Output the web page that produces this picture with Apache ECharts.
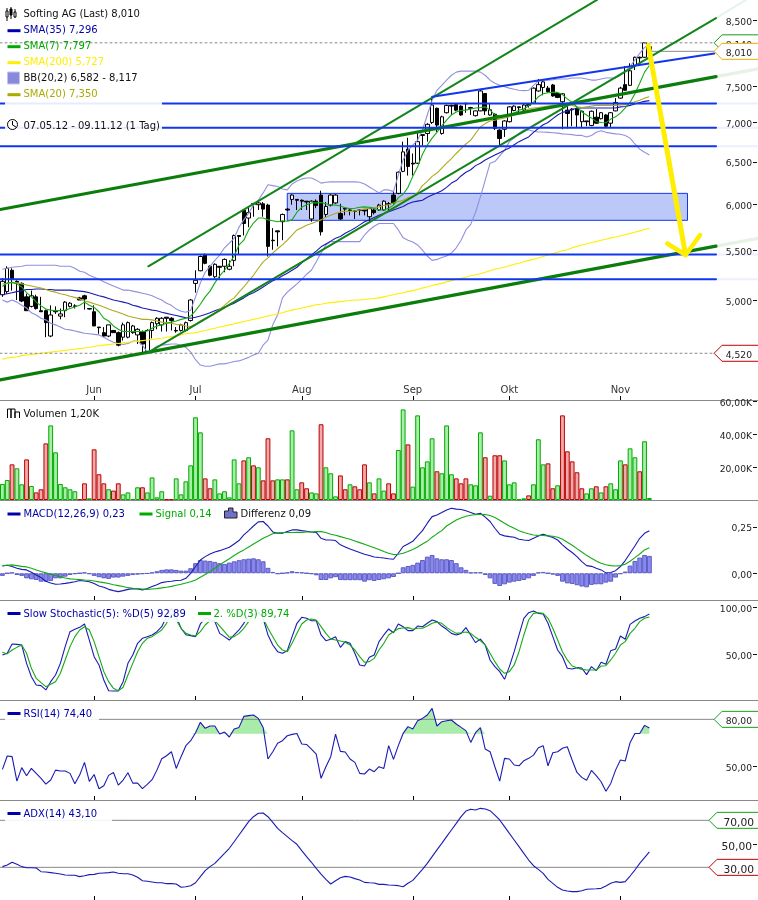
<!DOCTYPE html>
<html><head><meta charset="utf-8"><style>html,body{margin:0;padding:0;background:#fff}#c{width:758px;height:900px}</style>
<script src="https://cdn.jsdelivr.net/npm/echarts@6/dist/echarts.min.js"></script></head><body><div id="c"></div>
<script>
const categories=['05-07','05-08','05-09','05-10','05-11','05-14','05-15','05-16','05-17','05-18','05-21','05-22','05-23','05-24','05-25','05-28','05-29','05-30','05-31','06-01',
'06-04','06-05','06-06','06-07','06-08','06-11','06-12','06-13','06-14','06-15','06-18','06-19','06-20','06-21','06-22','06-25','06-26','06-27','06-28','06-29',
'07-02','07-03','07-04','07-05','07-06','07-09','07-10','07-11','07-12','07-13','07-16','07-17','07-18','07-19','07-20','07-23','07-24','07-25','07-26','07-27',
'07-30','07-31','08-01','08-02','08-03','08-06','08-07','08-08','08-09','08-10','08-13','08-14','08-15','08-16','08-17','08-20','08-21','08-22','08-23','08-24',
'08-27','08-28','08-29','08-30','08-31','09-03','09-04','09-05','09-06','09-07','09-10','09-11','09-12','09-13','09-14','09-17','09-18','09-19','09-20','09-21',
'09-24','09-25','09-26','09-27','09-28','10-01','10-02','10-03','10-04','10-05','10-08','10-09','10-10','10-11','10-12','10-15','10-16','10-17','10-18','10-19',
'10-22','10-23','10-24','10-25','10-26','10-29','10-30','10-31','11-01','11-02','11-05','11-06','11-07','11-08','11-09',
'11-12','11-13','11-14','11-15','11-16','11-19','11-20','11-21','11-22','11-23','11-26','11-27','11-28','11-29','11-30','12-03','12-04','12-05','12-06','12-07','12-10','12-11'];
const monthTicks={'06-01':'Jun','07-02':'Jul','08-01':'Aug','09-03':'Sep','10-01':'Okt','11-01':'Nov'};
// open, close, low, high
const ohlc=[[5.05,5.18,5.03,5.21],[5.08,5.31,5.06,5.33],[5.29,5.20,5.09,5.31],[5.18,5.17,5.00,5.19],[5.16,4.99,4.98,5.17],[5.03,4.90,4.90,5.06],[4.94,5.04,4.93,5.09],[5.03,4.92,4.91,5.05],[4.90,4.89,4.89,5.03],[4.90,4.79,4.66,4.91],
[4.67,4.86,4.66,4.95],[4.90,4.89,4.87,4.94],[4.85,4.87,4.82,4.92],[4.90,4.98,4.84,4.99],[4.94,4.97,4.93,4.98],[4.94,4.945,4.92,4.96],[5.02,5.00,5.00,5.03],[5.04,5.01,4.91,5.05],[4.92,4.915,4.91,4.92],[4.89,4.76,4.76,4.95],
[4.75,4.745,4.69,4.75],[4.70,4.67,4.66,4.75],[4.67,4.77,4.66,4.77],[4.72,4.70,4.70,4.72],[4.70,4.59,4.58,4.71],[4.66,4.77,4.63,4.79],[4.66,4.79,4.65,4.80],[4.70,4.76,4.69,4.77],[4.68,4.73,4.60,4.74],[4.71,4.60,4.52,4.72],
[4.53,4.72,4.52,4.73],[4.72,4.79,4.65,4.80],[4.78,4.83,4.73,4.84],[4.77,4.83,4.71,4.84],[4.84,4.83,4.71,4.84],[4.83,4.81,4.72,4.84],[4.72,4.715,4.70,4.75],[4.72,4.77,4.71,4.78],[4.72,4.79,4.71,4.80],[4.81,5.00,4.80,5.01],
[5.16,5.19,5.07,5.29],[5.285,5.43,5.28,5.44],[5.45,5.36,5.35,5.46],[5.33,5.24,5.23,5.34],[5.225,5.35,5.21,5.36],[5.33,5.32,5.21,5.33],[5.33,5.40,5.27,5.41],[5.30,5.33,5.29,5.39],[5.39,5.65,5.33,5.66],[5.65,5.64,5.45,5.65],
[5.93,5.78,5.65,5.94],[5.84,5.90,5.74,5.97],[6.00,5.995,5.855,6.01],[5.99,6.01,5.93,6.03],[6.00,5.94,5.855,6.02],[5.985,5.535,5.43,6.00],[5.60,5.595,5.50,5.73],[5.70,5.69,5.535,5.70],[5.80,5.88,5.60,5.89],[5.94,5.93,5.92,5.95],
[6.05,6.10,5.99,6.11],[6.05,6.04,5.93,6.05],[6.04,6.03,5.93,6.05],[6.03,6.02,5.93,6.03],[5.83,6.03,5.80,6.04],[6.03,5.98,5.95,6.05],[6.10,5.69,5.65,6.15],[5.88,5.97,5.85,6.02],[5.985,6.10,5.97,6.11],[6.01,6.10,6.00,6.11],
[5.89,5.83,5.82,6.00],[5.95,5.94,5.87,5.95],[5.93,5.925,5.87,5.94],[5.92,5.915,5.83,5.93],[5.93,5.925,5.87,5.94],[5.93,5.92,5.87,5.935],[5.855,5.945,5.80,5.95],[5.93,5.90,5.88,5.95],[5.93,5.985,5.92,6.00],[5.93,6.03,5.92,6.04],
[6.00,5.995,5.93,6.02],[6.10,6.01,5.99,6.15],[6.12,6.37,6.11,6.38],[6.38,6.62,6.37,6.75],[6.655,6.44,6.33,6.80],[6.48,6.47,6.33,6.60],[6.48,6.75,6.47,6.86],[6.84,6.83,6.70,6.84],[6.855,6.975,6.75,6.99],[7.00,7.235,6.98,7.35],
[7.19,6.965,6.875,7.20],[6.855,7.075,6.84,7.09],[7.13,7.23,7.12,7.24],[7.23,7.22,7.10,7.24],[7.24,7.165,7.15,7.25],[7.22,7.10,7.09,7.23],[7.26,7.25,7.13,7.26],[7.20,7.19,7.10,7.21],[7.09,7.155,7.08,7.16],[7.155,7.43,7.15,7.46],
[7.395,7.155,7.10,7.40],[7.10,7.17,7.09,7.26],[7.11,6.92,6.90,7.12],[6.90,6.79,6.70,6.91],[6.91,7.02,6.81,7.03],[7.01,7.21,7.00,7.22],[7.16,7.22,7.15,7.23],[7.21,7.20,7.14,7.21],[7.165,7.235,7.15,7.25],[7.24,7.23,7.20,7.25],
[7.26,7.47,7.25,7.48],[7.43,7.52,7.42,7.60],[7.48,7.56,7.37,7.57],[7.47,7.42,7.41,7.50],[7.515,7.36,7.35,7.53],[7.395,7.34,7.33,7.40],[7.28,7.39,6.91,7.40],[7.165,7.12,6.92,7.26],[7.18,7.17,6.95,7.19],[7.19,7.10,6.94,7.20],
[7.01,7.15,6.94,7.16],[7.02,7.01,6.95,7.02],[6.96,7.15,6.95,7.16],[7.07,6.99,6.98,7.18],[7.05,7.13,7.04,7.14],[7.10,6.95,6.93,7.11],[6.99,7.13,6.94,7.14],[7.155,7.27,7.15,7.33],[7.33,7.47,7.32,7.49],[7.52,7.44,7.43,7.79],
[7.51,7.72,7.50,7.83],[7.80,7.92,7.73,7.93],[7.92,7.91,7.83,7.93],[7.92,8.14,7.91,8.14],[8.08,8.01,7.97,8.13]];
const sma35=[5.05,5.06,5.07,5.08,5.09,5.10,5.10,5.105,5.105,5.10,5.10,5.095,5.095,5.095,5.095,5.09,5.085,5.08,5.07,5.055,
5.04,5.03,5.015,5.00,4.99,4.98,4.97,4.95,4.94,4.925,4.915,4.905,4.90,4.885,4.875,4.865,4.855,4.845,4.835,4.83,
4.84,4.85,4.865,4.88,4.90,4.915,4.935,4.95,4.97,4.995,5.02,5.05,5.07,5.095,5.125,5.155,5.185,5.205,5.235,5.26,
5.29,5.32,5.365,5.405,5.445,5.485,5.53,5.56,5.59,5.62,5.64,5.675,5.70,5.73,5.765,5.80,5.82,5.845,5.87,5.89,
5.91,5.93,5.95,5.97,6.00,6.02,6.03,6.04,6.075,6.10,6.125,6.15,6.19,6.24,6.27,6.325,6.37,6.40,6.45,6.48,
6.52,6.55,6.58,6.61,6.64,6.67,6.71,6.75,6.78,6.81,6.87,6.92,6.97,7.00,7.05,7.10,7.135,7.15,7.175,7.19,
7.195,7.195,7.195,7.195,7.195,7.195,7.195,7.195,7.21,7.215,7.23,7.25,7.27,7.285,7.296];
const sma7=[5.13,5.165,5.17,5.155,5.125,5.07,5.03,4.98,4.945,4.915,4.905,4.90,4.90,4.905,4.92,4.935,4.95,4.98,4.95,4.93,
4.89,4.83,4.805,4.76,4.73,4.71,4.71,4.71,4.71,4.71,4.715,4.74,4.76,4.77,4.785,4.795,4.805,4.82,4.83,4.85,
4.90,4.96,5.03,5.085,5.165,5.235,5.29,5.36,5.435,5.55,5.60,5.71,5.785,5.84,5.84,5.82,5.81,5.80,5.81,5.805,
5.82,5.905,5.96,5.99,6.01,6.01,6.015,6.00,5.99,5.985,5.975,5.955,5.945,5.95,5.96,5.965,5.96,5.95,5.93,5.93,
5.95,5.985,6.07,6.11,6.19,6.32,6.435,6.59,6.705,6.795,6.87,6.955,7.03,7.10,7.14,7.16,7.165,7.18,7.195,7.20,
7.21,7.165,7.10,7.085,7.09,7.10,7.125,7.165,7.18,7.225,7.27,7.35,7.39,7.405,7.41,7.41,7.38,7.32,7.27,7.21,
7.14,7.10,7.06,7.01,7.00,6.995,7.045,7.075,7.125,7.195,7.27,7.39,7.54,7.70,7.797];
const sma200=[4.47,4.48,4.485,4.49,4.50,4.505,4.51,4.515,4.52,4.525,4.53,4.535,4.54,4.545,4.55,4.555,4.56,4.565,4.57,4.58,
4.585,4.59,4.595,4.60,4.605,4.61,4.615,4.62,4.625,4.63,4.635,4.64,4.645,4.65,4.66,4.665,4.67,4.68,4.69,4.695,
4.70,4.71,4.72,4.73,4.74,4.75,4.76,4.77,4.78,4.79,4.80,4.81,4.82,4.83,4.84,4.85,4.86,4.87,4.88,4.895,
4.905,4.915,4.925,4.935,4.945,4.955,4.96,4.97,4.975,4.98,4.985,4.99,4.995,5.00,5.00,5.005,5.01,5.015,5.02,5.03,
5.04,5.05,5.06,5.07,5.08,5.09,5.10,5.115,5.125,5.14,5.15,5.16,5.175,5.185,5.20,5.21,5.22,5.235,5.245,5.255,
5.27,5.285,5.30,5.31,5.32,5.335,5.35,5.36,5.375,5.39,5.40,5.415,5.43,5.445,5.46,5.475,5.49,5.50,5.52,5.535,
5.55,5.56,5.575,5.585,5.60,5.61,5.625,5.635,5.645,5.66,5.67,5.685,5.70,5.715,5.727];
const sma20=[5.155,5.16,5.17,5.165,5.155,5.145,5.135,5.125,5.115,5.10,5.085,5.075,5.06,5.05,5.035,5.025,5.01,4.99,4.98,4.965,
4.95,4.935,4.915,4.90,4.885,4.87,4.85,4.84,4.83,4.82,4.82,4.815,4.805,4.795,4.79,4.785,4.775,4.77,4.76,4.755,
4.775,4.805,4.83,4.85,4.88,4.915,4.95,4.99,5.02,5.075,5.125,5.185,5.24,5.31,5.375,5.415,5.465,5.51,5.55,5.60,
5.655,5.71,5.735,5.76,5.78,5.80,5.82,5.85,5.87,5.89,5.91,5.915,5.915,5.92,5.93,5.94,5.95,5.955,5.965,5.98,
5.99,6.01,6.025,6.04,6.07,6.085,6.13,6.21,6.26,6.32,6.36,6.42,6.48,6.535,6.60,6.66,6.72,6.77,6.855,6.94,
6.985,7.02,7.03,7.045,7.06,7.075,7.10,7.125,7.15,7.18,7.195,7.20,7.21,7.22,7.23,7.235,7.24,7.24,7.23,7.21,
7.20,7.21,7.22,7.23,7.23,7.23,7.23,7.23,7.235,7.24,7.26,7.28,7.30,7.33,7.35];
const bbUpper=[5.30,5.31,5.32,5.325,5.33,5.34,5.34,5.34,5.34,5.34,5.34,5.34,5.33,5.33,5.33,5.31,5.28,5.27,5.24,5.22,
5.20,5.175,5.155,5.135,5.115,5.095,5.095,5.085,5.075,5.065,5.055,5.04,5.02,5.00,4.97,4.95,4.915,4.895,4.885,4.905,
5.03,5.165,5.27,5.33,5.39,5.445,5.52,5.57,5.62,5.74,5.82,5.895,5.985,6.04,6.125,6.22,6.21,6.20,6.17,6.16,
6.23,6.265,6.29,6.30,6.30,6.275,6.24,6.25,6.255,6.255,6.255,6.255,6.255,6.255,6.25,6.23,6.195,6.16,6.125,6.16,
6.16,6.14,6.335,6.52,6.64,6.705,6.77,6.90,7.10,7.30,7.44,7.51,7.585,7.655,7.70,7.715,7.715,7.715,7.715,7.70,
7.655,7.585,7.54,7.51,7.49,7.47,7.455,7.44,7.435,7.44,7.51,7.57,7.585,7.585,7.59,7.60,7.60,7.60,7.615,7.615,
7.615,7.60,7.585,7.585,7.60,7.615,7.615,7.615,7.655,7.715,7.78,7.88,7.98,8.07,8.117];
const bbLower=[5.00,4.98,5.00,4.98,4.95,4.925,4.88,4.86,4.83,4.815,4.785,4.77,4.75,4.73,4.725,4.715,4.705,4.695,4.69,4.685,
4.68,4.66,4.635,4.615,4.605,4.595,4.605,4.625,4.625,4.59,4.53,4.55,4.58,4.59,4.595,4.60,4.60,4.59,4.57,4.53,
4.465,4.42,4.41,4.41,4.42,4.43,4.43,4.44,4.45,4.455,4.47,4.485,4.505,4.52,4.59,4.635,4.77,4.86,5.02,5.075,
5.115,5.155,5.20,5.25,5.29,5.375,5.465,5.55,5.585,5.585,5.585,5.585,5.585,5.585,5.585,5.655,5.71,5.75,5.78,5.78,
5.78,5.78,5.71,5.625,5.60,5.58,5.55,5.495,5.435,5.39,5.40,5.42,5.435,5.465,5.52,5.60,5.71,5.77,5.905,6.08,
6.275,6.48,6.50,6.57,6.64,6.75,6.795,6.86,6.90,6.90,6.885,6.875,6.875,6.87,6.865,6.86,6.85,6.845,6.84,6.83,
6.83,6.81,6.83,6.87,6.89,6.87,6.86,6.85,6.845,6.83,6.795,6.72,6.655,6.615,6.582];
const volume=[9.7,12.1,21.6,19.2,9.5,24.6,8.5,4.6,6.5,34.3,45.2,28.9,9.7,7.7,6.5,5.3,0.4,10.1,1.0,30.7,
15.6,10.1,6.5,5.7,10.1,3.4,4.6,0.6,7.7,7.7,4.6,13.7,1.6,5.3,0.4,0.4,13.1,3.4,11.3,21.0,
50.1,41.0,13.1,7.1,12.5,4.0,5.3,1.6,24.6,10.1,24.0,25.9,21.0,19.8,11.9,37.4,11.9,12.5,12.5,12.5,
42.2,6.5,10.7,7.1,4.6,4.0,45.9,19.8,16.2,2.2,14.9,6.5,9.5,8.3,6.5,21.6,10.7,4.0,13.1,5.7,
10.1,4.0,30.3,54.9,33.7,8.1,51.3,19.8,23.4,37.4,17.4,16.2,45.2,15.6,13.1,10.1,13.1,9.5,8.9,41.0,
25.9,2.6,27.1,27.1,24.0,9.5,10.7,0.4,1.0,2.8,9.5,36.8,21.6,22.2,7.1,8.9,51.3,29.5,23.4,16.8,
7.1,4.0,7.1,8.3,4.6,8.3,10.1,6.5,24.0,21.6,31.3,25.9,17.4,35.6,1.2];
const volumeDirection=('GGRGGRGRRR'+'GGGGGGRRGR'+'RRGRRGGGGR'+'GGGGRRGGGG'+'GGRRGGGGGG'+'RGRGRRRGGR'+'GGRRGGRGGG'+'RRGRRRGRGG'+'RRGGRGGGGG'+'RGGGRRRGGG'+'RGRRGGGGGR'+'GGGRRGRRRR'+'RGGRGRGGGR'+'GGRGG').split('');
const macd=[.039,.043,.036,.027,.021,.018,.005,-.009,-.023,-.043,-.052,-.059,-.057,-.054,-.05,-.045,-.039,-.041,-.045,-.055,
-.068,-.075,-.086,-.093,-.098,-.093,-.086,-.082,-.084,-.089,-.082,-.071,-.061,-.05,-.045,-.043,-.039,-.037,-.027,0,
.036,.071,.089,.103,.114,.121,.13,.139,.157,.175,.205,.228,.253,.275,.277,.253,.221,.214,.214,.223,
.232,.232,.228,.225,.221,.219,.187,.178,.178,.175,.152,.141,.13,.121,.111,.102,.095,.087,.084,.082,
.078,.075,.107,.143,.157,.171,.2,.228,.268,.303,.312,.325,.339,.348,.343,.341,.334,.325,.316,.321,
.3,.277,.241,.209,.2,.196,.193,.182,.178,.175,.187,.2,.209,.2,.191,.178,.152,.13,.111,.089,
.062,.041,.037,.027,.018,.002,.004,.014,.036,.068,.107,.146,.187,.214,.228];
const signal=[.041,.043,.045,.041,.037,.034,.027,.018,.009,.002,-.005,-.012,-.018,-.025,-.03,-.032,-.034,-.036,-.037,-.041,
-.046,-.05,-.055,-.061,-.066,-.071,-.077,-.08,-.082,-.084,-.086,-.084,-.082,-.078,-.075,-.07,-.064,-.059,-.052,-.045,
-.036,-.021,-.007,.009,.027,.045,.062,.078,.095,.111,.125,.141,.157,.171,.187,.2,.211,.216,.218,.218,
.218,.219,.219,.221,.221,.223,.223,.218,.209,.203,.196,.189,.182,.173,.164,.155,.146,.137,.127,.116,
.107,.1,.102,.107,.116,.127,.141,.157,.171,.193,.211,.228,.253,.269,.285,.296,.305,.31,.314,.316,
.314,.309,.298,.284,.268,.253,.241,.228,.218,.211,.205,.203,.202,.2,.198,.193,.182,.166,.15,.132,
.114,.096,.08,.066,.054,.046,.041,.039,.041,.048,.064,.084,.103,.125,.137];
const diff=[-.014,0,.004,-.009,-.014,-.027,-.032,-.036,-.045,-.045,-.041,-.027,-.027,-.018,-.009,-.004,0,.004,-.004,-.014,
-.021,-.027,-.03,-.023,-.023,-.018,-.014,-.009,-.007,-.004,-.002,.004,.011,.018,.021,.021,.018,.014,.014,.027,
.054,.071,.068,.066,.061,.054,.05,.057,.064,.07,.075,.078,.08,.075,.064,.029,.007,-.004,0,.004,
.011,.007,.005,0,-.004,-.011,-.036,-.036,-.027,-.021,-.036,-.037,-.037,-.037,-.037,-.045,-.037,-.041,-.036,-.032,
-.027,-.02,0,.032,.039,.045,.057,.071,.089,.098,.08,.075,.075,.071,.054,.032,.018,.004,.005,.005,
-.009,-.027,-.057,-.068,-.059,-.05,-.045,-.041,-.036,-.027,-.014,.004,.007,0,-.007,-.014,-.045,-.054,-.057,-.064,
-.071,-.075,-.062,-.059,-.059,-.05,-.045,-.023,-.004,.009,.041,.066,.084,.098,.093];
const stochD=[49.3,51.1,61,60.6,59.9,40.4,26.2,17.4,16.7,12.1,20.9,28,40.4,58.2,74.1,76.6,78.7,82.3,65.2,47.5,
38.7,22.7,11.3,11,11,20.9,40.4,49.3,61.7,67,68.8,70.6,74.1,79.4,90.1,98.9,90.1,77.7,70.9,69.9,
68.8,82.3,88.3,86.5,84.8,72.3,68.8,65.2,70.6,75.9,83,91.8,98.9,95.4,88.3,70.6,59.9,52.8,51.1,53.9,
68.8,83,89.4,88.3,85.8,85.8,70.6,64.5,66,68.8,57.4,63.5,61.7,51.1,38.7,37.6,46.8,49.3,63.5,70.6,
77,73,82.3,79.4,75.2,75.2,80.1,79.4,83,86.5,84.8,80.1,76.6,72.3,70.6,72.3,78.4,70.6,62.4,66.3,
59.9,44,36.9,31.6,23.4,36.9,52.8,70.6,88.3,94.3,96.1,93.6,92.9,83,68.8,54.6,47.5,35.1,34.4,35.8,
35.5,28.4,36.9,32.6,41.5,39.4,53.9,55.7,69.5,66,81.9,85.5,88.3,90.1,92.89];
const stochD2=[52.1,50.4,54.6,57.4,59.9,51.1,35.1,24.5,19.9,15.6,18.1,20.9,29.8,44,58.2,68.8,75.9,79.4,75.9,63.5,
47.5,31.6,20.9,13.8,11.3,14.9,28,40.4,52.8,61.7,67,68.8,72.3,75.9,83,93.6,86.5,77.7,72.3,70.6,
69.5,74.1,81.2,85.8,85.8,80.1,74.1,68.1,68.8,72.3,77.7,84.8,91.8,93.6,88.3,77.7,68.8,59.9,54.6,52.8,
61.7,72.3,82.3,86.5,87.6,86.5,79.4,72.3,66.3,65.2,64.2,62.8,59.9,54.6,47.5,41.5,42.2,45.7,54.6,61.7,
70.6,74.1,77.3,78,78.4,76.6,77.7,77.7,80.1,83,84.4,83,78.7,75.2,72.3,73,73.8,72.3,68.1,64.5,
59.9,51.1,42.2,34.4,29.8,31.6,38.7,52.8,70.6,86.5,93.6,94.3,93.6,88.3,77.7,65.2,52.8,44,37.6,35.8,
34,33.3,33.3,33.3,37.6,37.9,44,51.1,59.9,63.5,72.3,77.7,84.8,88.3,89.74];
const rsi=[47.7,56.3,55.9,40.1,48.8,43.6,48.3,45.1,41.9,38.2,40.8,47.2,46.6,46.6,45.1,38.4,44,52.2,39.9,44.4,
35.2,37.1,43.8,45.7,37.5,40.8,45.5,38.8,38.8,35.2,38,41,47.2,54.6,56.5,59.1,48.3,55.9,63,66.2,
71.4,78.1,74.2,75.7,75.7,70.5,71.8,68.6,73.8,74.8,81.9,82.4,82.8,80.6,74.8,54.4,59.1,64.5,66.2,69.4,
70.3,70.9,64.1,63.8,60.8,57.6,41.9,49.4,55.9,70.5,59.3,58.9,54.4,52.2,45.1,44.7,47.9,46.2,49.4,48.3,
63,54.1,63,70.9,75.3,73.8,79.1,80.6,82.8,87.1,75.7,78.5,79.1,79.6,77,74.8,72.7,65.1,71.4,74.6,
60.8,59.1,49.4,40.1,54.8,54.4,50.5,50,53.3,54.8,56.9,61.7,63,50,58.4,59.1,61.3,62.3,53.7,45.7,
42.5,40.6,47,43.6,39.7,33.5,38.6,47.2,53.7,53.1,64.9,70.9,70.9,76.1,74.4];
const adx=[30.6,32,34.3,32.6,30.6,29.7,29.7,29.4,26.3,26,25.5,24.9,24.3,23.5,23.2,23.2,22.1,22.9,23.8,24,
24.9,25.2,25.5,26,24.9,24.6,24.6,23.5,21.5,18.6,18.1,17.5,16.9,16.9,16.1,16.1,15.8,13,13.5,14.4,
16.9,22.1,27.2,30.6,33.4,37.7,41.9,46.2,51.8,57.5,63.2,68.9,73.1,76,76.2,73.1,68.3,63.2,59.5,56.1,
52.7,49.6,44.2,39.1,34.3,29.1,24.3,19.8,15.8,18.6,21.2,22.3,21.8,20.4,19.2,17.2,16.9,16.7,15.5,15.5,
15,14.7,14.4,13.5,16.4,18.9,23.5,28.3,33.4,39.1,44.8,50.4,56.1,61.8,67.4,73.1,77.9,79.4,78.8,80.2,
79.6,78.2,74.5,70.3,64.6,58.9,53.3,47.6,41.9,36.2,31.4,28.3,24.9,19.8,16.4,13,10.7,9.9,9.3,9.3,
10.1,11.3,11.6,11.8,12.1,14.1,16.4,17.8,17.2,17.8,22.6,27.7,33.4,38.2,43.1];
const priceTicks=[8.5,7.5,7,6.5,6,5.5,5];
const volumeTicks=[60,40,20];
const macdTicks=[.25,0];
const stochTicks=[100,50];
const rsiTicks=[50];
const adxTicks=[50];
const horizontalLevels=[7.255,6.93,6.69,5.45,5.20];
const rsiOverbought=70.7;
const lastHigh=8.14, lastClose=8.01, periodLow=4.52;

const FONT='DejaVu Sans';
const BAND=157;
const grids=[[0,400],[400,100],[500,100],[600,100],[700,100],[800,100]];
const monthFilter=(i,v)=>!!monthTicks[v];
const fmt2=v=>v.toFixed(2).replace('.',',');
const xAxes=grids.map((g,i)=>({type:'category',gridIndex:i,data:categories,boundaryGap:true,
  axisLine:{show:i<5,onZero:false,lineStyle:{color:'#888',width:1}},
  axisTick:{show:true,inside:true,length:4,alignWithLabel:true,interval:monthFilter,lineStyle:{color:'#000',width:1}},
  axisLabel:{show:i===0,inside:true,margin:5,interval:monthFilter,formatter:v=>monthTicks[v]||'',fontFamily:FONT,fontSize:10,color:'#333'},
  splitLine:{show:false}}));
// hidden band-unit axes for overlays, one per panel
const OV={};
grids.forEach((g,i)=>{OV[i]=xAxes.length;xAxes.push({type:'value',gridIndex:i,min:0,max:BAND,show:false});});
function yAx(i,extra,ticks,fmt,fs,shift){return Object.assign({gridIndex:i,position:'right',axisLine:{show:false},splitLine:{show:false},
  axisTick:{show:false},
  axisLabel:{inside:true,margin:6,customValues:ticks,formatter:fmt,fontFamily:FONT,fontSize:fs||9.2,color:'#222',showMinLabel:true,showMaxLabel:true,verticalAlign:'top',lineHeight:shift||5}},extra);}
const yAxes=[
 yAx(0,{type:'log',logBase:10,min:4.137,max:8.828},priceTicks,v=>(+v).toFixed(3).replace('.',',')),
 yAx(1,{type:'value',min:0,max:60.6},volumeTicks,v=>fmt2(+v)+'K',9.2,6),
 yAx(2,{type:'value',min:-.143,max:.392},macdTicks,v=>fmt2(+v)),
 yAx(3,{type:'value',min:1.4,max:107.8},stochTicks,v=>fmt2(+v)),
 yAx(4,{type:'value',min:27.9,max:92.5},rsiTicks,v=>fmt2(+v)),
 yAx(5,{type:'value',min:2.2,max:87.3},adxTicks,v=>fmt2(+v),10.7,6)];

const NAVY='#1a1ab4',GREEN='#14aa14';
function ln(name,data,color,g,z,w){return {type:'line',name,data,xAxisIndex:g,yAxisIndex:g,symbol:'none',silent:true,animation:false,z:z||3,lineStyle:{color,width:w||1.1}};}
function oseg(g,pts,color,w,z,extra){return {type:'line',data:pts,xAxisIndex:OV[g],yAxisIndex:g,symbol:'none',silent:true,animation:false,z,lineStyle:Object.assign({color,width:w,cap:'round'},extra||{})};}
const seg=(pts,color,w,z,extra)=>oseg(0,pts,color,w,z,extra);
function yTicks(g,ticks){return {type:'custom',xAxisIndex:OV[g],yAxisIndex:g,data:ticks.map(v=>[BAND,v]),z:9,silent:true,clip:false,animation:false,
  renderItem(p,api){const c=api.coord([api.value(0),api.value(1)]);const y=Math.round(c[1])+.5;
    return {type:'line',shape:{x1:753,y1:y,x2:757,y2:y},style:{stroke:'#111',lineWidth:1}};}};}
function callout(g,value,color,tip,text,fs,rightX){return {type:'custom',xAxisIndex:OV[g],yAxisIndex:g,data:[[tip,value]],z:8,silent:true,clip:false,animation:false,
  renderItem(p,api){const c=api.coord([api.value(0),api.value(1)]);const x=c[0],y=c[1];
    return {type:'group',children:[
     {type:'polygon',shape:{points:[[x,y],[x+8,y-8],[770,y-8],[770,y+8],[x+8,y+8]]},style:{fill:'#fff',stroke:color,lineWidth:1}},
     {type:'text',style:{text,x:rightX,y:y+2.5,align:'right',verticalAlign:'middle',fontFamily:FONT,fontSize:fs,fill:'#222'}}]};}};}

const THICK='#0b7d0b',MED='#12851a',BLUE='#1236f0',YEL='#ffee00';
const series=[
 {type:'line',xAxisIndex:OV[0],yAxisIndex:0,data:[],symbol:'none',animation:false,z:1,silent:true,
  markArea:{silent:true,z:1,itemStyle:{color:'#bcc8f8',borderColor:BLUE,borderWidth:1},data:[[{coord:[59.5,6.12]},{coord:[142.4,5.815]}]]}},
 ln('BB upper',bbUpper,'#9090e0',0,3),ln('BB lower',bbLower,'#9090e0',0,3),
 {type:'candlestick',name:'Softing AG',data:ohlc,xAxisIndex:0,yAxisIndex:0,barWidth:4,silent:true,animation:false,z:2,
  itemStyle:{color:'#fff',color0:'#000',borderColor:'#000',borderColor0:'#000',borderWidth:1}},
 ln('SMA(200)',sma200,'#ffee00',0,3),ln('SMA(35)',sma35,NAVY,0,3),ln('SMA(20)',sma20,'#b0a820',0,3),ln('SMA(7)',sma7,GREEN,0,3),
 // trend lines
 seg([[0,5.935],[148.3,7.635]],THICK,3.2,4),seg([[148.3,7.635],[157,7.748]],THICK,3.2,4,{opacity:.1}),
 seg([[0,4.297],[148.3,5.537]],THICK,3.2,4),seg([[148.3,5.537],[157,5.62]],THICK,3.2,4,{opacity:.1}),
 seg([[30.72,5.33],[123.65,8.83]],MED,2,4),
 seg([[30.4,4.52],[148.3,8.53]],MED,2,4),seg([[148.3,8.53],[154.5,8.83]],MED,2,4,{opacity:.1}),
 seg([[89.54,7.35],[147.95,7.978]],BLUE,2,4),
 ...horizontalLevels.flatMap(v=>[seg([[0,v],[148.3,v]],BLUE,2,4),seg([[148.3,v],[157,v]],BLUE,2,4,{opacity:.08})]),
 // reference lines
 seg([[0,lastHigh],[147.9,lastHigh]],'#888',1,3,{type:[2,3]}),seg([[0,periodLow],[147.9,periodLow]],'#888',1,3,{type:[2,3]}),
 seg([[135,lastClose],[147.9,lastClose]],'#888',1,3),
 // forecast arrow
 seg([[134.3,8.10],[142.0,5.445]],YEL,5,5),seg([[138.2,5.565],[142.0,5.445],[145,5.655]],YEL,4.5,5),
 callout(0,lastHigh,'#14a014',147.9,'8,140',9.2,752),callout(0,lastClose,'#e6b000',147.9,'8,010',9.2,752),callout(0,periodLow,'#bb0000',147.9,'4,520',9.2,752),
 // volume
 {type:'bar',name:'Volumen',xAxisIndex:1,yAxisIndex:1,barWidth:'100%',silent:true,animation:false,
  data:volume.map((v,i)=>({value:v,itemStyle:volumeDirection[i]==='G'?{color:'#a8eea8',borderColor:'#00aa00',borderWidth:1}:{color:'#f0aaaa',borderColor:'#bb0000',borderWidth:1}}))},
 // macd
 {type:'bar',name:'Differenz',data:diff,xAxisIndex:2,yAxisIndex:2,barWidth:'100%',silent:true,animation:false,itemStyle:{color:'#8888ee',borderColor:'#5c5cc4',borderWidth:1}},
 ln('MACD',macd,NAVY,2,3),ln('Signal',signal,GREEN,2,3),
 // stoch
 ln('%D(5)',stochD,NAVY,3,3),ln('%D(3)',stochD2,GREEN,3,3),
 // rsi
 {type:'line',xAxisIndex:4,yAxisIndex:4,data:rsi.map(v=>Math.max(v,rsiOverbought)),symbol:'none',silent:true,animation:false,z:2,
  lineStyle:{width:0,opacity:0},areaStyle:{origin:rsiOverbought,color:'#a9eca9',opacity:1}},
 ln('RSI(14)',rsi,NAVY,4,3),
 oseg(4,[[0,80],[147.9,80]],'#888',1,2),callout(4,80,'#14a014',147.9,'80,00',9.2,752),
 // adx
 ln('ADX(14)',adx,NAVY,5,3),
 oseg(5,[[0,70],[146.85,70]],'#888',1,2),oseg(5,[[0,30],[146.85,30]],'#888',1,2),
 callout(5,70,'#14a014',146.85,'70,00',10.7,754),callout(5,30,'#bb0000',146.85,'30,00',10.7,754),
 // value-axis ticks
 yTicks(0,priceTicks),yTicks(1,volumeTicks),yTicks(2,macdTicks),yTicks(3,stochTicks),yTicks(4,rsiTicks),yTicks(5,adxTicks)
];

function tx(x,y,text,fill){return {type:'text',z:61,silent:true,style:{x,y,text,fill:fill||'#111',fontFamily:FONT,fontSize:10,verticalAlign:'middle'}};}
function bar(x,y,w,fill){return {type:'rect',z:61,silent:true,shape:{x,y:y-1.5,width:w,height:3},style:{fill}};}
function mask(x,y,w,h){return {type:'rect',z:60,silent:true,shape:{x,y,width:w,height:h},style:{fill:'rgba(255,255,255,.9)'}};}
function lineEl(pts,stroke,fill){return {type:'polyline',z:61,silent:true,shape:{points:pts},style:{stroke:stroke||'#000',fill:fill||'none',lineWidth:1}};}
const Y=[14.7,30.7,46.7,62.7,78.7,94.7];
const graphics=[
 mask(5,87,157,18),mask(5,119,157,16),mask(5,607,288,15),mask(5,708,94,14),mask(5,808,107,14),
 tx(23.5,Y[0],'Softing AG (Last) 8,010'),
 lineEl([[7,8],[7,21]]),{type:'rect',z:62,silent:true,shape:{x:6,y:11,width:2,height:6},style:{fill:'#fff',stroke:'#000'}},
 lineEl([[11,7],[11,19]]),{type:'rect',z:62,silent:true,shape:{x:10,y:9,width:2,height:6},style:{fill:'#000',stroke:'#000'}},
 lineEl([[15,9],[15,18]]),{type:'rect',z:62,silent:true,shape:{x:14,y:12,width:2,height:5},style:{fill:'#fff',stroke:'#000'}},
 bar(7.5,Y[1],13,'#0000aa'),tx(23.5,Y[1],'SMA(35) 7,296','#0000aa'),
 bar(7.5,Y[2],13,'#00aa00'),tx(23.5,Y[2],'SMA(7) 7,797','#00aa00'),
 bar(7.5,Y[3],13,'#ffee00'),tx(23.5,Y[3],'SMA(200) 5,727','#ffee00'),
 {type:'rect',z:61,silent:true,shape:{x:7.5,y:72,width:12,height:12},style:{fill:'#8888dd',stroke:'#c4c4ee'}},tx(23.5,Y[4],'BB(20,2) 6,582 - 8,117'),
 bar(7.5,Y[5],13,'#aaaa00'),tx(23.5,Y[5],'SMA(20) 7,350','#aaaa00'),
 {type:'circle',z:61,silent:true,shape:{cx:12.5,cy:124.5,r:5},style:{fill:'#fff',stroke:'#000',lineWidth:1}},lineEl([[12.5,121],[12.5,125],[16,127]]),
 tx(23.5,126.7,'07.05.12 - 09.11.12 (1 Tag)'),
 lineEl([[7.5,418],[7.5,409],[11,409],[11,418],[11,409],[15,409],[15,418],[15,412],[19.5,412],[19.5,418]]),tx(23.5,414.5,'Volumen 1,20K'),
 bar(7.5,514,13,'#0000aa'),tx(23.5,514.5,'MACD(12,26,9) 0,23','#0000aa'),
 bar(139.5,514,13,'#00aa00'),tx(155.5,514.5,'Signal 0,14','#00aa00'),
 {type:'polygon',z:61,silent:true,shape:{points:[[224.5,518],[224.5,511],[228.5,511],[228.5,508],[233,508],[233,512],[237,512],[237,518]]},style:{fill:'#7070c8',stroke:'#222',lineWidth:1}},
 tx(240.5,514.5,'Differenz 0,09'),
 bar(7.5,613.5,13,'#0000aa'),tx(23.5,614.5,'Slow Stochastic(5): %D(5) 92,89','#0000aa'),
 bar(198,613.5,13,'#00aa00'),tx(213.5,614.5,'2. %D(3) 89,74','#00aa00'),
 bar(7.5,713.5,13,'#0000aa'),tx(23.5,714.5,'RSI(14) 74,40','#0000aa'),
 bar(7.5,813.5,13,'#0000aa'),tx(23.5,814.5,'ADX(14) 43,10','#0000aa')
];
const chart=echarts.init(document.getElementById('c'),null,{renderer:'canvas'});
chart.setOption({animation:false,backgroundColor:'#fff',
 grid:grids.map(g=>({left:0,right:0,top:g[0],height:g[1],containLabel:false})),
 xAxis:xAxes,yAxis:yAxes,series,graphic:{elements:graphics}});
</script></body></html>
